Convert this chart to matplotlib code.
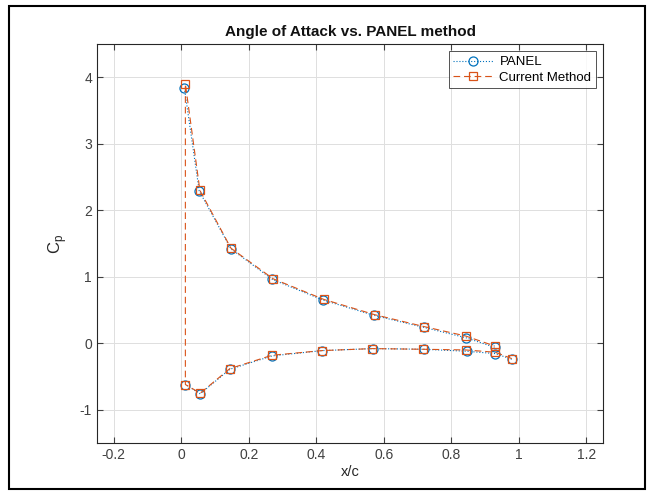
import matplotlib.pyplot as plt
from matplotlib.patches import Rectangle
import numpy as np

plt.rcParams['font.family'] = ['Liberation Sans', 'DejaVu Sans']
plt.rcParams['axes.unicode_minus'] = False

# PANEL method (lower surface TE -> LE, then upper surface LE -> TE)
panel_x_lower = [0.979, 0.930, 0.845, 0.718, 0.568, 0.417, 0.269, 0.144, 0.056, 0.012]
panel_cp_lower = [-0.24, -0.155, -0.12, -0.09, -0.08, -0.11, -0.19, -0.39, -0.76, -0.62]
panel_x_upper = [0.009, 0.053, 0.147, 0.270, 0.420, 0.571, 0.718, 0.842, 0.928]
panel_cp_upper = [3.84, 2.29, 1.42, 0.96, 0.65, 0.42, 0.24, 0.085, -0.06]

# Current method
cur_x_lower = [0.979, 0.930, 0.842, 0.715, 0.566, 0.417, 0.269, 0.144, 0.056, 0.012]
cur_cp_lower = [-0.23, -0.135, -0.10, -0.09, -0.08, -0.11, -0.18, -0.38, -0.75, -0.62]
cur_x_upper = [0.012, 0.055, 0.147, 0.272, 0.422, 0.573, 0.720, 0.842, 0.928]
cur_cp_upper = [3.90, 2.30, 1.43, 0.97, 0.66, 0.43, 0.25, 0.11, -0.04]

panel_x = panel_x_lower + [np.nan] + panel_x_upper
panel_cp = panel_cp_lower + [np.nan] + panel_cp_upper
cur_x = cur_x_lower + cur_x_upper
cur_cp = cur_cp_lower + cur_cp_upper

fig = plt.figure(figsize=(6.55, 4.95), dpi=100)
ax = fig.add_axes([0.148, 0.105, 0.773, 0.806])

ax.plot(panel_x, panel_cp, ':', color='#0072BD', lw=0.8, marker='o',
        markersize=6.5, markerfacecolor='none', markeredgewidth=0.9,
        label='PANEL')
ax.plot(cur_x, cur_cp, '--', color='#D95319', lw=0.8, dashes=(6, 3.5), marker='s',
        markersize=5.5, markerfacecolor='none', markeredgewidth=0.9,
        label='Current Method')

ax.set_xlim(-0.25, 1.25)
ax.set_ylim(-1.5, 4.5)
ax.set_xticks([-0.2, 0, 0.2, 0.4, 0.6, 0.8, 1, 1.2])
ax.set_xticklabels(['-0.2', '0', '0.2', '0.4', '0.6', '0.8', '1', '1.2'])
ax.set_yticks([-1, 0, 1, 2, 3, 4])
ax.grid(True, color='#DFDFDF', lw=0.7)
ax.set_axisbelow(True)
ax.tick_params(direction='in', top=True, right=True, labelsize=10,
               colors='#404040', length=4)
for s in ax.spines.values():
    s.set_color('#262626')
    s.set_linewidth(0.8)

ax.set_xlabel('x/c', fontsize=10.5, color='#262626', labelpad=2)
ax.set_ylabel(r'C$_\mathregular{p}$', fontsize=12, color='#262626', labelpad=8)
ax.set_title('Angle of Attack vs. PANEL method', fontsize=11, fontweight='bold',
             color='#111111', pad=6)

leg = ax.legend(loc='upper right', fontsize=9.5, frameon=True, fancybox=False,
                edgecolor='#262626', borderaxespad=0.55, handlelength=3.0,
                borderpad=0.35, labelspacing=0.25, handletextpad=0.5)
leg.get_frame().set_linewidth(0.7)

fig.patches.append(Rectangle((0.013, 0.012), 0.972, 0.976, transform=fig.transFigure,
                             fill=False, edgecolor='black', lw=1.5))

fig.savefig('out.png', dpi=100)
